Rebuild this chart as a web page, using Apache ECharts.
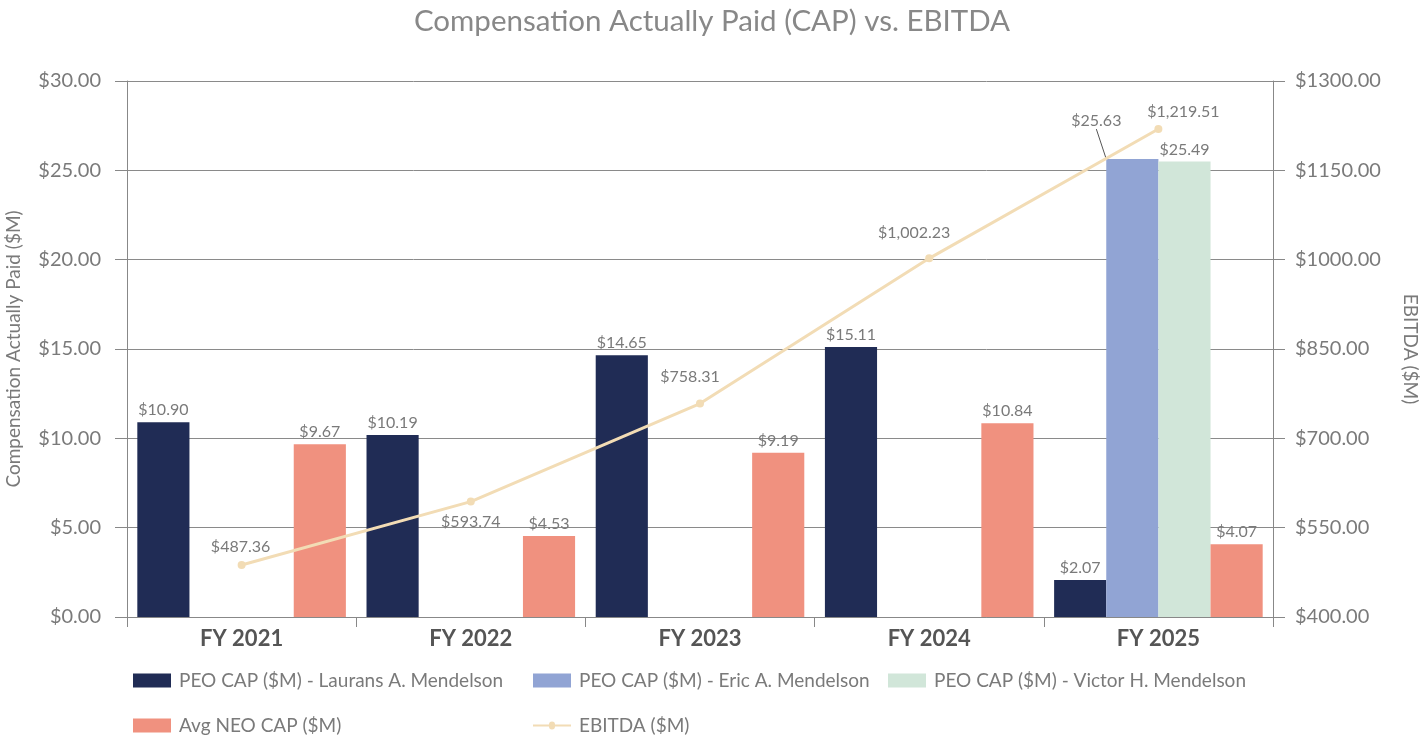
<!DOCTYPE html>
<html><head><meta charset="utf-8">
<script src="https://cdn.jsdelivr.net/npm/echarts@6/dist/echarts.min.js"></script>
<style>html,body{margin:0;padding:0;background:#fff}#c{width:1424px;height:744px}</style>
</head><body><div id="c"></div>
<script>
const categories = ['FY 2021','FY 2022','FY 2023','FY 2024','FY 2025'];
const peoLaurans = [10.90, 10.19, 14.65, 15.11, 2.07];
const peoEric = [null, null, null, null, 25.63];
const peoVictor = [null, null, null, null, 25.49];
const avgNeo = [9.67, 4.53, 9.19, 10.84, 4.07];
const ebitda = [487.36, 593.74, 758.31, 1002.23, 1219.51];
const leftTicks = {min: 0, max: 30, interval: 5};
const rightTicks = {min: 400, max: 1300, interval: 150};

const FONT = 'Lato';
const GRAY = '#7a7a7a';
const fmt2 = v => '$' + v.toFixed(2);
const fmtComma = v => '$' + v.toLocaleString('en-US', {minimumFractionDigits: 2, maximumFractionDigits: 2});

const chart = echarts.init(document.getElementById('c'));
const barLabel = {show: true, position: 'top', color: GRAY, fontFamily: FONT, fontSize: 16, distance: 4,
  formatter: p => p.value == null ? '' : fmt2(p.value)};
const ebitdaLabelPos = ['top', 'bottom', 'top', 'top', 'top'];
const ebitdaLabelOff = [[-1, -1], [0, 3], [-10, -10], [-15, -8], [25, 0]];

const legendBase = {icon: 'rect', itemWidth: 38, itemHeight: 14, padding: 0,
  textStyle: {color: GRAY, fontFamily: FONT, fontSize: 19, padding: [0, 0, 0, 3]}};
chart.setOption({
  animation: false,
  title: {text: 'Compensation Actually Paid (CAP) vs. EBITDA', left: 'center', top: 1,
    textStyle: {color: '#888', fontFamily: FONT, fontSize: 29.5, fontWeight: 'normal'}},
  legend: [
    Object.assign({}, legendBase, {data: ['PEO CAP ($M) - Laurans A. Mendelson'], left: 133, top: 671}),
    Object.assign({}, legendBase, {data: ['PEO CAP ($M) - Eric A. Mendelson'], left: 533, top: 671}),
    Object.assign({}, legendBase, {data: ['PEO CAP ($M) - Victor H. Mendelson'], left: 888, top: 671}),
    Object.assign({}, legendBase, {data: ['Avg NEO CAP ($M)'], left: 133, top: 716}),
    Object.assign({}, legendBase, {data: [{name: 'EBITDA ($M)', icon: 'path://M0,6 L16,6 A3,3 0 1 1 22,6 L38,6 L38,8 L22,8 A3,3 0 1 1 16,8 L0,8 Z'}], left: 533, top: 716})
  ],
  grid: {left: 127, right: 151, top: 81, bottom: 127, containLabel: false, outerBoundsMode: 'none'},
  xAxis: {type: 'category', data: categories,
    axisLine: {lineStyle: {color: '#888', width: 1}},
    axisTick: {show: true, length: 10, lineStyle: {color: '#888'}},
    axisLabel: {color: '#555', fontFamily: FONT, fontSize: 22, fontWeight: 'bold', margin: 11}},
  yAxis: [
    {type: 'value', min: leftTicks.min, max: leftTicks.max, interval: leftTicks.interval,
      name: 'Compensation Actually Paid ($M)', nameLocation: 'middle', nameGap: 104,
      nameTextStyle: {color: GRAY, fontFamily: FONT, fontSize: 19},
      axisLine: {show: true, lineStyle: {color: '#888'}},
      axisTick: {show: true, length: 12, lineStyle: {color: '#888'}},
      axisLabel: {color: GRAY, fontFamily: FONT, fontSize: 20, margin: 26, formatter: v => fmt2(v)},
      splitLine: {show: true, lineStyle: {color: '#8a8a8a', width: 1}}},
    {type: 'value', min: rightTicks.min, max: rightTicks.max, interval: rightTicks.interval, position: 'right',
      name: 'EBITDA ($M)', nameLocation: 'middle', nameGap: 128, nameRotate: -90,
      nameTextStyle: {color: GRAY, fontFamily: FONT, fontSize: 19},
      axisLine: {show: true, lineStyle: {color: '#888'}},
      axisTick: {show: true, length: 12, lineStyle: {color: '#888'}},
      axisLabel: {color: GRAY, fontFamily: FONT, fontSize: 20, margin: 22, formatter: v => fmt2(v)},
      splitLine: {show: false}}
  ],
  series: [
    {name: 'PEO CAP ($M) - Laurans A. Mendelson', type: 'bar', data: peoLaurans, barGap: '0%', barCategoryGap: '9%',
      itemStyle: {color: '#202c55'}, label: barLabel},
    {name: 'PEO CAP ($M) - Eric A. Mendelson', type: 'bar', data: peoEric,
      itemStyle: {color: '#91a4d4'}, label: barLabel,
      labelLine: {show: true, lineStyle: {color: '#555', width: 1}},
      labelLayout: p => p.dataIndex === 4 ? {dx: -36, dy: -26} : {}},
    {name: 'PEO CAP ($M) - Victor H. Mendelson', type: 'bar', data: peoVictor,
      itemStyle: {color: '#d1e6d9'}, label: barLabel},
    {name: 'Avg NEO CAP ($M)', type: 'bar', data: avgNeo,
      itemStyle: {color: '#f0917f'}, label: barLabel},
    {name: 'EBITDA ($M)', type: 'line', yAxisIndex: 1, z: 5,
      data: ebitda.map((v, i) => ({value: v, label: {position: ebitdaLabelPos[i], offset: ebitdaLabelOff[i]}})),
      symbol: 'circle', symbolSize: 8,
      lineStyle: {color: '#f2dcb5', width: 3}, itemStyle: {color: '#f2dcb5'},
      label: {show: true, color: GRAY, fontFamily: FONT, fontSize: 16, distance: 5,
        formatter: p => fmtComma(p.value)}}
  ]
});
</script></body></html>
